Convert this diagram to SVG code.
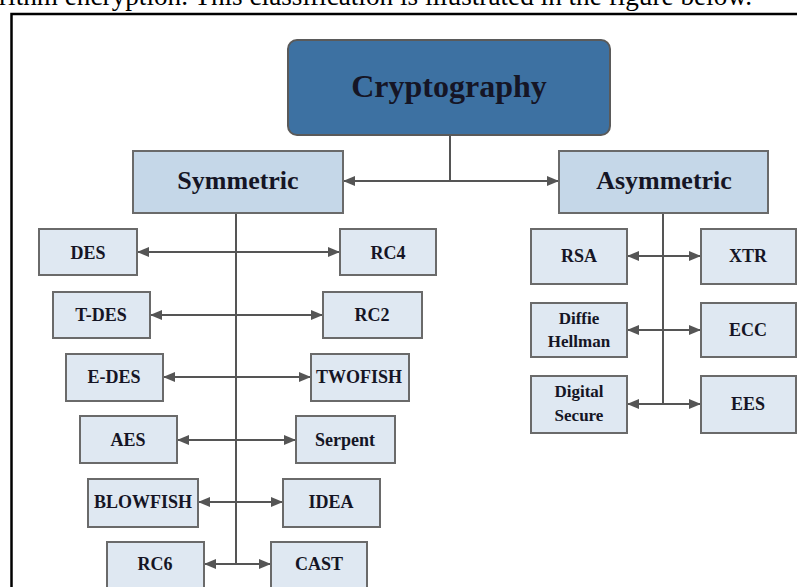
<svg xmlns="http://www.w3.org/2000/svg" width="797" height="587" viewBox="0 0 797 587">
<style>
.cap{font-family:"Liberation Serif","Times New Roman",serif;font-size:27px;fill:#000}
.t{font-family:"Liberation Serif","Times New Roman",serif;font-weight:bold;fill:#151525;text-anchor:middle}
.leaf{fill:#dfe8f2;stroke:#6a6a6a;stroke-width:2}
.mid{fill:#c5d7e8;stroke:#6a6a6a;stroke-width:2}
.root{fill:#3d71a2;stroke:#5a5a5a;stroke-width:2}
.c{stroke:#555;stroke-width:2;fill:none}
.a{stroke:#555;stroke-width:2;fill:none;marker-start:url(#ah);marker-end:url(#ah)}
</style>
<defs>
<marker id="ah" viewBox="0 0 12 10" refX="12" refY="5" markerWidth="12" markerHeight="10" markerUnits="userSpaceOnUse" orient="auto-start-reverse">
<path d="M0,0 L12,5 L0,10 Z" fill="#555"/>
</marker>
</defs>
<rect width="797" height="587" fill="#fff"/>
<text class="cap" x="-1" y="5" textLength="753" lengthAdjust="spacingAndGlyphs">rithm encryption. This classification is illustrated in the figure below.</text>
<path d="M11.5,587 V14 H797" fill="none" stroke="#000" stroke-width="2.5"/>

<g id="connectors">
<path class="c" d="M450,135 V181"/>
<path class="a" d="M343,181 H559"/>
<path class="c" d="M236,213 V564" stroke="#888"/>
<path class="a" d="M137,252 H340"/>
<path class="a" d="M150,315 H323"/>
<path class="a" d="M163,377 H311"/>
<path class="a" d="M177,440 H296"/>
<path class="a" d="M198,502 H283"/>
<path class="a" d="M204,564 H271"/>
<path class="c" d="M663,213 V404"/>
<path class="a" d="M627,256 H701"/>
<path class="a" d="M627,330 H701"/>
<path class="a" d="M627,404 H701"/>
</g>

<g id="cryptography"><rect class="root" x="288" y="40" width="322" height="95" rx="9"/><text class="t" x="449" y="97" font-size="32">Cryptography</text></g>
<g id="symmetric"><rect class="mid" x="133" y="151" width="210" height="62"/><text class="t" x="238" y="189" font-size="26">Symmetric</text></g>
<g id="asymmetric"><rect class="mid" x="559" y="151" width="209" height="62"/><text class="t" x="664" y="189" font-size="26">Asymmetric</text></g>

<g id="des"><rect class="leaf" x="39" y="229" width="98" height="46"/><text class="t" x="88" y="259" font-size="18">DES</text></g>
<g id="rc4"><rect class="leaf" x="340" y="229" width="96" height="46"/><text class="t" x="388" y="259" font-size="18">RC4</text></g>
<g id="tdes"><rect class="leaf" x="53" y="292" width="97" height="46"/><text class="t" x="101" y="321" font-size="18">T-DES</text></g>
<g id="rc2"><rect class="leaf" x="323" y="292" width="99" height="46"/><text class="t" x="372" y="321" font-size="18">RC2</text></g>
<g id="edes"><rect class="leaf" x="66" y="354" width="97" height="47"/><text class="t" x="114" y="383" font-size="18">E-DES</text></g>
<g id="twofish"><rect class="leaf" x="311" y="354" width="98" height="47"/><text class="t" x="359" y="383" font-size="18">TWOFISH</text></g>
<g id="aes"><rect class="leaf" x="80" y="416" width="97" height="47"/><text class="t" x="128" y="446" font-size="18">AES</text></g>
<g id="serpent"><rect class="leaf" x="296" y="416" width="99" height="47"/><text class="t" x="345" y="446" font-size="18">Serpent</text></g>
<g id="blowfish"><rect class="leaf" x="88" y="479" width="110" height="48"/><text class="t" x="143" y="508" font-size="18">BLOWFISH</text></g>
<g id="idea"><rect class="leaf" x="283" y="479" width="97" height="48"/><text class="t" x="331" y="508" font-size="18">IDEA</text></g>
<g id="rc6"><rect class="leaf" x="107" y="542" width="97" height="60"/><text class="t" x="155" y="570" font-size="18">RC6</text></g>
<g id="cast"><rect class="leaf" x="271" y="542" width="96" height="60"/><text class="t" x="319" y="570" font-size="18">CAST</text></g>

<g id="rsa"><rect class="leaf" x="531" y="229" width="96" height="55"/><text class="t" x="579" y="262" font-size="18">RSA</text></g>
<g id="xtr"><rect class="leaf" x="701" y="229" width="95" height="55"/><text class="t" x="748" y="262" font-size="18">XTR</text></g>
<g id="diffie"><rect class="leaf" x="531" y="303" width="96" height="54"/><text class="t" x="579" y="324" font-size="17">Diffie</text><text class="t" x="579" y="347" font-size="17">Hellman</text></g>
<g id="ecc"><rect class="leaf" x="701" y="303" width="95" height="54"/><text class="t" x="748" y="336" font-size="18">ECC</text></g>
<g id="digital"><rect class="leaf" x="531" y="376" width="96" height="57"/><text class="t" x="579" y="397" font-size="17">Digital</text><text class="t" x="579" y="421" font-size="17">Secure</text></g>
<g id="ees"><rect class="leaf" x="701" y="376" width="95" height="57"/><text class="t" x="748" y="410" font-size="18">EES</text></g>
</svg>
